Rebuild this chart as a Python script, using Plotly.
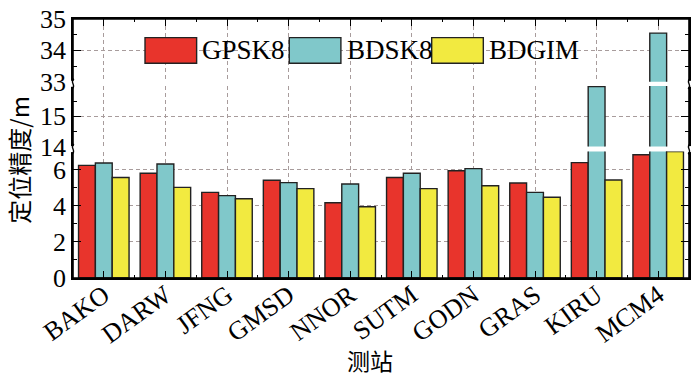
import plotly.graph_objects as go

# ---------------- data ----------------
stations = ["BAKO", "DARW", "JFNG", "GMSD", "NNOR", "SUTM", "GODN", "GRAS", "KIRU", "MCM4"]
series_names = ["GPSK8", "BDSK8", "BDGIM"]
gpsk8 = [6.24, 5.80, 4.74, 5.41, 4.17, 5.57, 5.94, 5.26, 6.39, 6.83]
bdsk8 = [6.37, 6.31, 4.56, 5.28, 5.21, 5.80, 6.06, 4.74, 15.98, 34.55]
bdgim = [5.57, 5.02, 4.39, 4.95, 3.95, 4.95, 5.11, 4.47, 5.43, 7.00]
low_ticks = [0, 2, 4, 6]
mid_ticks = [14, 15]
top_ticks = [33, 34, 35]

# ---------------- style ----------------
colors = ["#e8342c", "#80c8ca", "#f2ea40"]
serif = "Liberation Serif, Times New Roman, Noto Sans CJK SC"
cjk = "Noto Sans CJK SC, Liberation Serif"
grid_col = "#a89c9c"
low_range, mid_range, top_range = [0, 7], [14, 16], [33, 35]
low_dom, mid_dom, top_dom = [0.0, 0.488], [0.5075, 0.7416], [0.758, 1.0]

xpos = list(range(len(stations)))
values = [gpsk8, bdsk8, bdgim]

fig = go.Figure()
segments = [("x", "y"), ("x", "y2"), ("x2", "y3")]
for xa, ya in segments:
    for name, vals, col in zip(series_names, values, colors):
        fig.add_trace(go.Bar(
            x=xpos, y=vals, name=name, xaxis=xa, yaxis=ya,
            marker=dict(color=col, line=dict(color="#222222", width=1.4)),
            showlegend=False, cliponaxis=True, hoverinfo="skip",
        ))

tickfont = dict(family=serif, size=26, color="black")

def yax(dom, rng, ticks, minor_dt):
    return dict(
        domain=dom, range=rng, tickmode="array", tickvals=ticks,
        ticks="inside", ticklen=8, tickwidth=1.4, tickcolor="black",
        showline=True, linecolor="black", linewidth=1.5, mirror="ticks",
        showgrid=True, gridcolor=grid_col, gridwidth=1, griddash="4px,3px",
        zeroline=False, tickfont=tickfont, anchor="x", automargin=False,
        minor=dict(dtick=minor_dt, tick0=rng[0], ticks="inside", ticklen=4,
                   tickwidth=1.2, tickcolor="black", showgrid=False),
    )

xcommon = dict(
    range=[-0.5, len(stations) - 0.5], domain=[0, 1],
    tickmode="array", tickvals=xpos,
    ticks="inside", ticklen=7, tickwidth=1.4, tickcolor="black",
    showline=True, linecolor="black", linewidth=1.5,
    showgrid=True, gridcolor=grid_col, gridwidth=1, griddash="4px,3px",
    zeroline=False, automargin=False,
    minor=dict(tick0=-0.5, dtick=1, ticks="inside", ticklen=3,
               tickwidth=1.2, tickcolor="black", showgrid=False),
)

fig.update_layout(
    width=700, height=384,
    margin=dict(l=73, r=11, t=19, b=106),
    paper_bgcolor="white", plot_bgcolor="white",
    barmode="group", bargap=0.18, bargroupgap=0,
    showlegend=False,
    xaxis=dict(**xcommon, anchor="y", ticktext=stations, tickangle=-36,
               ticklabelstandoff=-10,
               tickfont=dict(family=serif, size=26, color="black")),
    xaxis2=dict(**xcommon, anchor="y3", side="top", matches="x",
                showticklabels=False),
    yaxis=yax(low_dom, low_range, low_ticks, 1),
    yaxis2=yax(mid_dom, mid_range, mid_ticks, 0.5),
    yaxis3=yax(top_dom, top_range, top_ticks, 0.5),
)

shapes = []
annotations = []
# frame
shapes.append(dict(type="rect", xref="paper", yref="paper", x0=0, x1=1, y0=0, y1=1,
                   line=dict(color="black", width=1.6), layer="above"))
# break marks on left and right axes
for yb in [(low_dom[1] + mid_dom[0]) / 2, (mid_dom[1] + top_dom[0]) / 2]:
    for xb in [0, 1]:
        shapes.append(dict(type="rect", xref="paper", yref="paper",
                           xsizemode="pixel", ysizemode="pixel", xanchor=xb, yanchor=yb,
                           x0=-2, x1=2, y0=-3, y1=3, fillcolor="white",
                           line=dict(width=0), layer="above"))
        shapes.append(dict(type="path", xref="paper", yref="paper",
                           xsizemode="pixel", ysizemode="pixel", xanchor=xb, yanchor=yb,
                           path="M -1,-5 C 4,-2 -4,2 1,5",
                           line=dict(color="black", width=1.4), layer="above"))

# custom legend (wide swatches as in the reference)
leg_sw_x0 = [0.1169, 0.3511, 0.5823]
sw_w = 0.0838
leg_y0, leg_y1 = 0.829, 0.928
for name, col, x0 in zip(series_names, colors, leg_sw_x0):
    shapes.append(dict(type="rect", xref="paper", yref="paper",
                       x0=x0, x1=x0 + sw_w, y0=leg_y0, y1=leg_y1,
                       fillcolor=col, line=dict(color="#222222", width=1.4), layer="above"))
    annotations.append(dict(text=name, xref="paper", yref="paper",
                            x=x0 + sw_w + 0.006, y=(leg_y0 + leg_y1) / 2,
                            xanchor="left", yanchor="middle", showarrow=False,
                            font=dict(family=serif, size=27, color="black")))

# axis titles
annotations.append(dict(text="定位精度/m", xref="paper", yref="paper", x=-0.088, y=0.456,
                        textangle=-90, showarrow=False, xanchor="center", yanchor="middle",
                        font=dict(family=cjk, size=24, color="black")))
annotations.append(dict(text="测站", xref="paper", yref="paper", x=0.482, y=-0.318,
                        showarrow=False, xanchor="center", yanchor="middle",
                        font=dict(family=cjk, size=23, color="black")))

fig.update_layout(shapes=shapes, annotations=annotations)
fig.write_html("out.html", config={"displayModeBar": False},
               post_script="document.body.style.margin='0px';")
